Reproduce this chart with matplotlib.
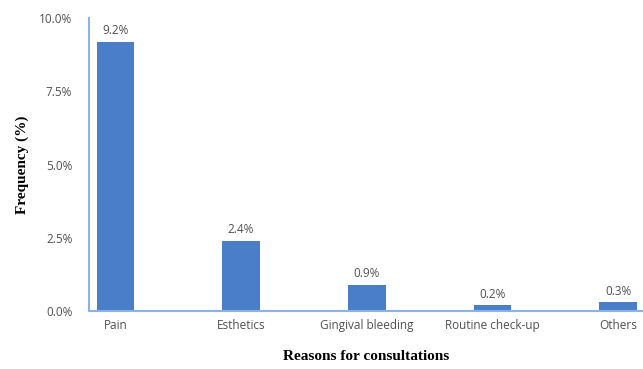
import numpy as np
import matplotlib.pyplot as plt
from matplotlib.ticker import FuncFormatter

reasons = ['Pain', 'Esthetics', 'Gingival bleeding', 'Routine check-up', 'Others']
freq = [9.2, 2.4, 0.9, 0.2, 0.3]
yticks = [0, 2.5, 5, 7.5, 10]

bar_color = '#4a7ec8'
axis_color = '#8db3e2'
text_gray = '#505050'

fig = plt.figure(figsize=(6.43, 3.69), dpi=100)
ax = fig.add_axes([0.1384, 0.157, 0.862, 0.794])

x = np.arange(len(reasons))
ax.bar(x, freq, width=0.3, color=bar_color)
for xi, v in zip(x, freq):
    ax.text(xi, v + 0.15, f'{v:.1f}%', ha='center', va='bottom',
            fontsize=8.5, color=text_gray, family='Open Sans')

ax.set_xlim(-0.21, 4.2)
ax.set_ylim(0, 10)
ax.set_yticks(yticks)
ax.yaxis.set_major_formatter(FuncFormatter(lambda v, p: f'{v:.1f}%'))
ax.set_xticks(x)
ax.set_xticklabels(reasons)

for lab in ax.get_xticklabels() + ax.get_yticklabels():
    lab.set_family('Open Sans')
    lab.set_fontsize(8.5)
    lab.set_color(text_gray)

ax.tick_params(axis='y', length=0, pad=12)
ax.tick_params(axis='x', length=0, pad=6)

for s in ['top', 'right']:
    ax.spines[s].set_visible(False)
ax.spines['left'].set_color(axis_color)
ax.spines['bottom'].set_color(axis_color)
ax.spines['left'].set_linewidth(1.5)
ax.spines['bottom'].set_linewidth(1.5)

ax.set_ylabel('Frequency (%)', family='Liberation Serif', fontweight='bold',
              fontsize=11, labelpad=7)
ax.set_xlabel('Reasons for consultations', family='Liberation Serif',
              fontweight='bold', fontsize=11, labelpad=13)

fig.savefig('out.png', dpi=100)
